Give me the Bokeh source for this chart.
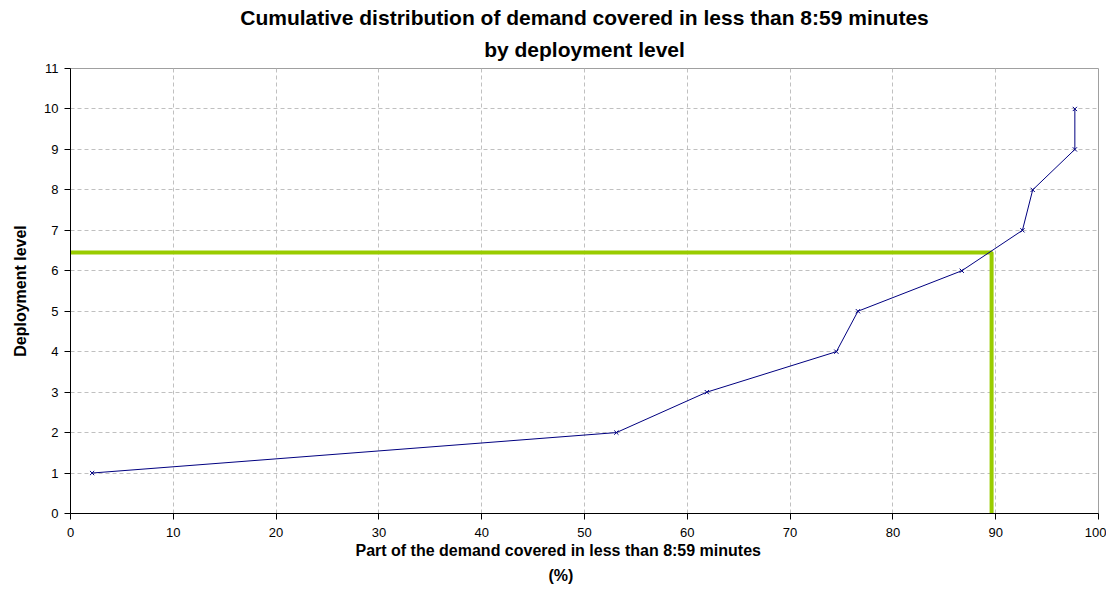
from bokeh.plotting import figure
from bokeh.models import Range1d, FixedTicker, Title
from bokeh.embed import file_html
from bokeh.resources import INLINE

# Data
coverage_pct = [2.1, 53.1, 61.9, 74.5, 76.6, 86.7, 92.6, 93.6, 97.7, 97.7]
deployment_level = [1, 2, 3, 4, 5, 6, 7, 8, 9, 10]

# Threshold marker (green)
threshold_x = 89.6
threshold_y = 6.45

x_ticks = [0, 10, 20, 30, 40, 50, 60, 70, 80, 90, 100]
y_ticks = [0, 1, 2, 3, 4, 5, 6, 7, 8, 9, 10, 11]

FONT = "Liberation Sans"

p = figure(width=1106, height=589, output_backend="svg", toolbar_location=None,
           x_range=Range1d(0, 100), y_range=Range1d(0, 11),
           min_border_left=70, min_border_right=8, min_border_top=68, min_border_bottom=76)

p.title = None
t2 = Title(text="by deployment level", align="center", text_font=FONT,
           text_font_size="21px", text_font_style="bold", text_color="black",
           standoff=15)
t1 = Title(text="Cumulative distribution of demand covered in less than 8:59 minutes",
           align="center", text_font=FONT, text_font_size="21px",
           text_font_style="bold", text_color="black", standoff=0)
p.add_layout(t2, "above")
p.add_layout(t1, "above")

p.background_fill_color = "white"
p.border_fill_color = "white"
p.outline_line_color = "#a0a0a0"
p.outline_line_width = 1

# Grid
for g in (p.xgrid, p.ygrid):
    g.grid_line_color = "#c0c0c0"
    g.grid_line_dash = "4 3"
    g.grid_line_width = 1
p.xaxis.ticker = FixedTicker(ticks=x_ticks)
p.yaxis.ticker = FixedTicker(ticks=y_ticks)

for ax in (p.xaxis, p.yaxis):
    ax.axis_line_color = "black"
    ax.axis_line_width = 1
    ax.major_tick_line_color = "black"
    ax.major_tick_out = 6
    ax.major_tick_in = 0
    ax.minor_tick_line_color = None
    ax.major_label_text_font = FONT
    ax.major_label_text_font_size = "13px"
    ax.major_label_text_color = "black"
    ax.axis_label_text_font = FONT
    ax.axis_label_text_font_size = "16px"
    ax.axis_label_text_font_style = "bold"
    ax.axis_label_text_color = "black"

p.xaxis.major_label_standoff = 8
p.yaxis.axis_label = "Deployment level"
p.yaxis.axis_label_standoff = 12
p.yaxis.major_label_standoff = 6

# X axis label as two lines (left-shifted like the original)
xl1 = Title(text="Part of the demand covered in less than 8:59 minutes", align="left",
            offset=285, text_font=FONT, text_font_size="16px", text_font_style="bold",
            text_color="black", standoff=0)
xl2 = Title(text="(%)", align="left", offset=478, text_font=FONT, text_font_size="16px",
            text_font_style="bold", text_color="black", standoff=12)
p.add_layout(xl1, "below")
p.add_layout(xl2, "below")

# Green threshold lines
p.line([-0.4, threshold_x, threshold_x], [threshold_y, threshold_y, 0],
       line_color="#99cc00", line_width=4)

# Data line
p.line(coverage_pct, deployment_level, line_color="#000080", line_width=1)
p.scatter(coverage_pct, deployment_level, marker="x", size=6,
          line_color="#000080", line_width=1)

open("out.html", "w").write(file_html(p, INLINE))
